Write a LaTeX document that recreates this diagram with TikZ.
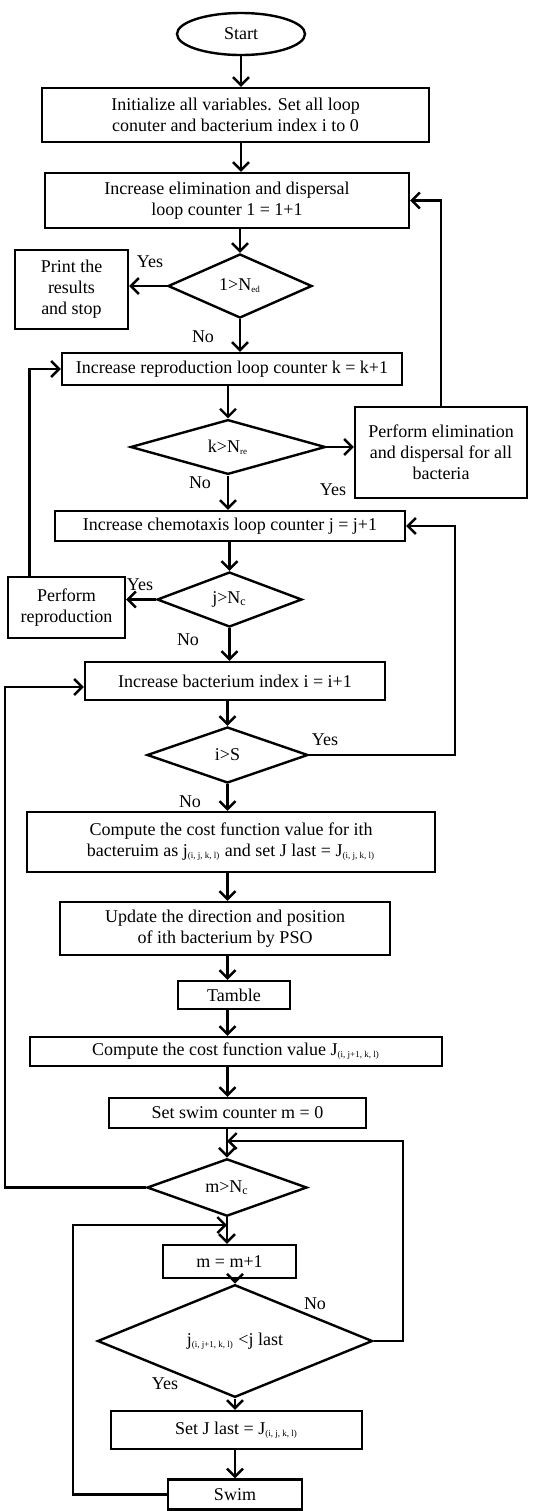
\documentclass[tikz,border=0pt]{standalone}
\usepackage{fontspec}
\setmainfont{Liberation Serif}
\usepackage{tikz}
\usetikzlibrary{shapes}
\usetikzlibrary{arrows.meta,calc}
\tikzstyle{Tstate}=[shape=ellipse,draw=black,line width=1.2pt,inner sep=0pt]
\tikzstyle{Pstate}=[shape=rectangle,draw=black,line width=1.2pt,inner sep=0pt,align=center]
\tikzstyle{Qstate}=[shape=diamond,draw=black,line width=1.2pt,inner sep=0pt]
\tikzstyle{flow}=[-{Straight Barb[length=4pt,width=8pt]},line width=1.2pt]
\tikzstyle{lbl}=[inner sep=0pt]
\newcommand{\idx}[1]{\textsubscript{\fontsize{4.5}{5}\selectfont #1}}

\begin{document}
\begin{tikzpicture}[x=0.5pt,y=-0.5pt]
 \fontsize{9}{10.5}\selectfont
 \useasboundingbox (0,0) rectangle (550,1511);

 \node[Tstate,minimum width=64pt,minimum height=21pt] (START) at (241,34) {Start};
 \node[Pstate,minimum width=193.5pt,minimum height=27pt] (init) at (235.5,115) {Initialize all variables. Set all loop\\ conuter and bacterium index i to 0};
 \node[Pstate,minimum width=182pt,minimum height=27.5pt] (elim) at (227,200.5) {Increase elimination and dispersal\\ loop counter 1 = 1+1};
 \node[Qstate,minimum width=72pt,minimum height=32pt] (t1) at (240,286) {1>N\idx{ed}};
 \node[Pstate,minimum width=56.5pt,minimum height=39.5pt] (print) at (71.5,289.5) {Print the\\ results\\ and stop};

 \node[Pstate,minimum width=170pt,minimum height=16pt] (repro) at (232,369) {Increase reproduction loop counter k = k+1};
 \node[Qstate,minimum width=97.5pt,minimum height=26pt] (t2) at (228,447) {k>N\idx{re}};
 \node[Pstate,minimum width=86pt,minimum height=45.5pt] (disperse) at (441,452.5) {Perform elimination\\ and dispersal for all\\ bacteria};

 \node[Pstate,minimum width=175pt,minimum height=15pt] (chemo) at (230,526) {Increase chemotaxis loop counter j = j+1};
 \node[Qstate,minimum width=72.5pt,minimum height=27.5pt] (t3) at (229.5,599.5) {j>N\textsubscript{c}};
 \node[Pstate,minimum width=58.5pt,minimum height=30.5pt] (reprod) at (66.5,607.5) {Perform\\ reproduction};

 \node[Pstate,minimum width=150pt,minimum height=19pt] (bact) at (235,681) {Increase bacterium index i = i+1};
 \node[Qstate,minimum width=80.5pt,minimum height=28pt] (t4) at (227.5,755) {i>S};
 \node[Pstate,minimum width=204pt,minimum height=30pt] (cost) at (231,842) {Compute the cost function value for ith\\ bacteruim as j\idx{(i, j, k, l)} and set J last = J\idx{(i, j, k, l)}};
 \node[Pstate,minimum width=165pt,minimum height=26.5pt] (update) at (225,928.5) {Update the direction and position\\ of ith bacterium by PSO};
 \node[Pstate,minimum width=56pt,minimum height=14pt] (tamble) at (234,995) {Tamble};
 \node[Pstate,minimum width=206pt,minimum height=14.5pt] (cost2) at (236,1051.5) {Compute the cost function value J\idx{(i, j+1, k, l)}};
 \node[Pstate,minimum width=128.5pt,minimum height=15pt] (swim0) at (237.5,1113) {Set swim counter m = 0};

 \node[Qstate,minimum width=80pt,minimum height=25.5pt] (t5) at (227,1187.5) {m>N\textsubscript{c}};
 \node[Pstate,minimum width=66.5pt,minimum height=16.5pt] (mplus) at (229.5,1261.5) {m = m+1};
 \node[Qstate,minimum width=137.5pt,minimum height=37pt] (t6) at (235,1341) {j\idx{(i, j+1, k, l)} <j last};
 \node[Pstate,minimum width=125.5pt,minimum height=19pt] (setJ) at (236.5,1430) {Set J last = J\idx{(i, j, k, l)}};
 \node[Pstate,minimum width=67pt,minimum height=15pt] (swim) at (235,1494.5) {Swim};

 \node[lbl] (y1) at (150,262) {Yes};
 \node[lbl] (n1) at (203,337) {No};
 \node[lbl] (n2) at (200,483) {No};
 \node[lbl] (y2) at (333,490) {Yes};
 \node[lbl] (y3) at (140,585) {Yes};
 \node[lbl] (n3) at (188,640) {No};
 \node[lbl] (y4) at (325,740) {Yes};
 \node[lbl] (n4) at (190,802) {No};
 \node[lbl] (n6) at (315,1304) {No};
 \node[lbl] (y6) at (165,1384) {Yes};

 \coordinate (rt1) at (455,0);
 \coordinate (lt1) at (5,0);
 \coordinate (rt2) at (403,0);
 \coordinate (lt2) at (73,0);
 \coordinate (jn1) at (227,1141);
 \coordinate (jn2) at (227,1225);

\path
(START) edge [flow] (START |- init.north)
(init.south -| START) edge [flow] (elim.north -| START)
(elim.south -| t1) edge [flow] (t1.north)
(t1.west) edge [flow] (t1.west -| print.east)
(t1.south) edge [flow] (t1.south |- repro.north)

(repro.south -| t2) edge [flow] (t2.north)
(t2.east) edge [flow] (t2.east -| disperse.west)
(t2.south) edge [flow] (t2.south |- chemo.north)

(chemo.south -| t3) edge [flow] (t3.north)
(t3.west) edge [flow] (t3.west -| reprod.east)
(t3.south) edge [flow] (t3.south |- bact.north)

(bact.south -| t4) edge [flow] (t4.north)
(t4.south) edge [flow] (t4.south |- cost.north)
(cost.south -| t4) edge [flow] (update.north -| t4)
(update.south -| t4) edge [flow] (tamble.north -| t4)
(tamble.south -| t4) edge [flow] (cost2.north -| t4)
(cost2.south -| t4) edge [flow] (swim0.north -| t4)

(swim0.south -| t5) edge [flow] (t5.north)
(t5.south) edge [flow] (t5.south |- mplus.north)
(mplus.south -| t6) edge [flow] (t6.north)
(t6.south) edge [flow] (t6.south |- setJ.north)
(setJ.south -| t6) edge [flow] (swim.north -| t6);

\draw[flow] (disperse.north) |- (elim.east);
\draw[flow] ([xshift=11.25pt]reprod.north west) |- (repro.west);
\draw[flow] (t4.east) -- (t4.east -| rt1) |- (chemo.east);
\draw[flow] (t5.west) -- (t5.west -| lt1) |- ([yshift=-3pt]bact.west);
\draw[flow] (t6.east) -- (t6.east -| rt2) |- (jn1);
\draw[flow] (swim.west) -- (swim.west -| lt2) |- (jn2);

\end{tikzpicture}
\end{document}
